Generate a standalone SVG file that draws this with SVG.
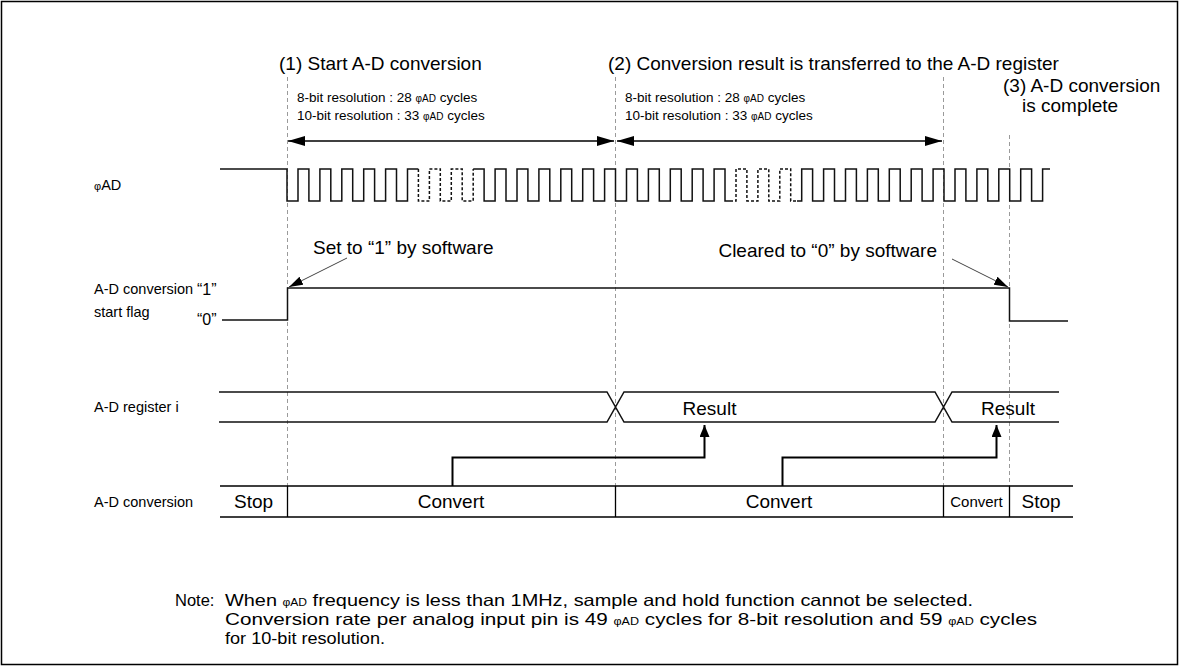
<svg xmlns="http://www.w3.org/2000/svg" width="1179" height="666" viewBox="0 0 1179 666">
<style>
text{font-family:"Liberation Sans",Arial,Helvetica,sans-serif;fill:#000}
.big{font-size:19px}
.lab{font-size:14.5px}
.q{font-size:16px}
.sm{font-size:13.5px}
.phi{font-size:10px}
.note{font-size:16.5px}
.guide{stroke:#9a9a9a;stroke-width:1;stroke-dasharray:4 3;fill:none}
.wave{stroke:#111;stroke-width:1.5;fill:none}
.wdash{stroke:#111;stroke-width:1.5;fill:none;stroke-dasharray:3 2}
.dim{stroke:#000;stroke-width:1.3;fill:none}
.lead{stroke:#444;stroke-width:1;fill:none}
.conn{stroke:#000;stroke-width:2;fill:none}
.bar{stroke:#000;stroke-width:1.3;fill:none}
</style>
<defs>
<marker id="ah" viewBox="0 0 17 10" refX="17" refY="5" markerWidth="17" markerHeight="10" markerUnits="userSpaceOnUse" orient="auto-start-reverse"><path d="M0,0 L17,5 L0,10 z" fill="#000"/></marker>
<marker id="lh" viewBox="0 0 14 9" refX="14" refY="4.5" markerWidth="14" markerHeight="9" markerUnits="userSpaceOnUse" orient="auto"><path d="M0,0 L14,4.5 L0,9 z" fill="#000"/></marker>
<marker id="uh" viewBox="0 0 12 10" refX="12" refY="5" markerWidth="12" markerHeight="10" markerUnits="userSpaceOnUse" orient="auto"><path d="M0,0 L12,5 L0,10 z" fill="#000"/></marker>
</defs>
<rect x="1.5" y="1.5" width="1176" height="663" fill="#fff" stroke="#000" stroke-width="1.5"/>

<g id="guides">
<path class="guide" d="M287.5,77 V486 M615.5,77 V486 M943.5,77 V486 M1009.5,135 V486"/>
</g>

<g id="titles">
<text class="big" x="279" y="70">(1) Start A-D conversion</text>
<text class="big" x="608" y="70">(2) Conversion result is transferred to the A-D register</text>
<text class="big" x="1003" y="92">(3) A-D conversion</text>
<text class="big" x="1022" y="112">is complete</text>
</g>

<g id="period1">
<text class="sm" x="297" y="102">8-bit resolution : 28 <tspan class="phi">φAD</tspan> cycles</text>
<text class="sm" x="297" y="120">10-bit resolution : 33 <tspan class="phi">φAD</tspan> cycles</text>
</g>
<g id="period2">
<text class="sm" x="625" y="102">8-bit resolution : 28 <tspan class="phi">φAD</tspan> cycles</text>
<text class="sm" x="625" y="120">10-bit resolution : 33 <tspan class="phi">φAD</tspan> cycles</text>
</g>

<g id="labels">
<text class="lab" x="94" y="190"><tspan font-size="11px">φ</tspan>AD</text>
<text class="lab" x="94" y="294">A-D conversion</text>
<text class="lab" x="94" y="317">start flag</text>
<text class="q" x="197" y="295">“1”</text>
<text class="q" x="197" y="325">“0”</text>
<text class="lab" x="94" y="412">A-D register i</text>
<text class="lab" x="94" y="507">A-D conversion</text>
</g>

<g id="clock">
<path class="wave" d="M220,169 H287 V201 H298 V169 H308.9 V201 H319.9 V169 H330.8 V201 H341.8 V169 H352.7 V201 H363.7 V169 H374.6 V201 H385.6 V169 H396.5 V201 H407.5 V169 H418.4"/>
<path class="wdash" d="M418.4,169 V201 H429.4 V169 H440.3 V201 H451.3 V169 H462.2 V201 H473.2 V169"/>
<path class="wave" d="M473.2,169 H484.1 V201 H495.1 V169 H506 V201 H517 V169 H527.9 V201 H538.9 V169 H549.8 V201 H560.8 V169 H571.7 V201 H582.7 V169 H593.6 V201 H604.6 V169 H615.5 V201 H626.5 V169 H637.4 V201 H648.4 V169 H659.3 V201 H670.3 V169 H681.2 V201 H692.2 V169 H703.1 V201 H714.1 V169 H725 V201 H730"/>
<path class="wdash" d="M730,201 H736 V169 H746.9 V201 H757.9 V169 H768.8 V201 H779.8 V169 H790.7 V201 H797"/>
<path class="wave" d="M797,201 H801.7 V169 H812.6 V201 H823.6 V169 H834.5 V201 H845.5 V169 H856.4 V201 H867.4 V169 H878.3 V201 H889.3 V169 H900.2 V201 H911.2 V169 H922.1 V201 H933.1 V169 H944 V201 H955 V169 H965.9 V201 H976.9 V169 H987.8 V201 H998.8 V169 H1009.7 V201 H1020.7 V169 H1031.6 V201 H1042.6 V169 H1050"/>
</g>

<g id="flag">
<path class="wave" d="M222,320 H287.5 V288 H1009.5 V321 H1068"/>
</g>

<g id="register">
<path class="wave" d="M219,392 H607 L624,422 H935 L952,392 H1059 M219,422 H607 L624,392 H935 L952,422 H1059"/>
<text class="big" x="709.5" y="415" text-anchor="middle">Result</text>
<text class="big" x="1008" y="415" text-anchor="middle">Result</text>
</g>

<g id="conversion">
<path class="bar" d="M220,486 H1073 M220,517 H1073 M287.5,486 V517 M615.5,486 V517 M943.5,486 V517 M1009.5,486 V517"/>
<text class="big" x="253.5" y="508" text-anchor="middle">Stop</text>
<text class="big" x="451" y="508" text-anchor="middle">Convert</text>
<text class="big" x="779" y="508" text-anchor="middle">Convert</text>
<text x="976.5" y="507" text-anchor="middle" font-size="15px">Convert</text>
<text class="big" x="1041" y="508" text-anchor="middle">Stop</text>
</g>

<g id="connectors">
<path class="dim" d="M288,141 H614" marker-start="url(#ah)" marker-end="url(#ah)"/>
<path class="dim" d="M617,141 H942" marker-start="url(#ah)" marker-end="url(#ah)"/>
<path class="lead" d="M347,258 L289,287" marker-end="url(#lh)"/>
<path class="lead" d="M952,259 L1008,287" marker-end="url(#lh)"/>
<path class="conn" d="M452.5,486 V457.5 H704.5 V425" marker-end="url(#uh)"/>
<path class="conn" d="M782.5,486 V457.5 H996.5 V425" marker-end="url(#uh)"/>
</g>

<g id="annotations">
<text class="big" x="313" y="254">Set to “1” by software</text>
<text class="big" x="937" y="257" text-anchor="end">Cleared to “0” by software</text>
</g>

<g id="note">
<text class="note" x="175" y="606">Note:</text>
<text class="note" x="225" y="606" textLength="748" lengthAdjust="spacingAndGlyphs">When <tspan class="phi">φAD</tspan> frequency is less than 1MHz, sample and hold function cannot be selected.</text>
<text class="note" x="225" y="625" textLength="812" lengthAdjust="spacingAndGlyphs">Conversion rate per analog input pin is 49 <tspan class="phi">φAD</tspan> cycles for 8-bit resolution and 59 <tspan class="phi">φAD</tspan> cycles</text>
<text class="note" x="225" y="644" textLength="160" lengthAdjust="spacingAndGlyphs">for 10-bit resolution.</text>
</g>
</svg>
